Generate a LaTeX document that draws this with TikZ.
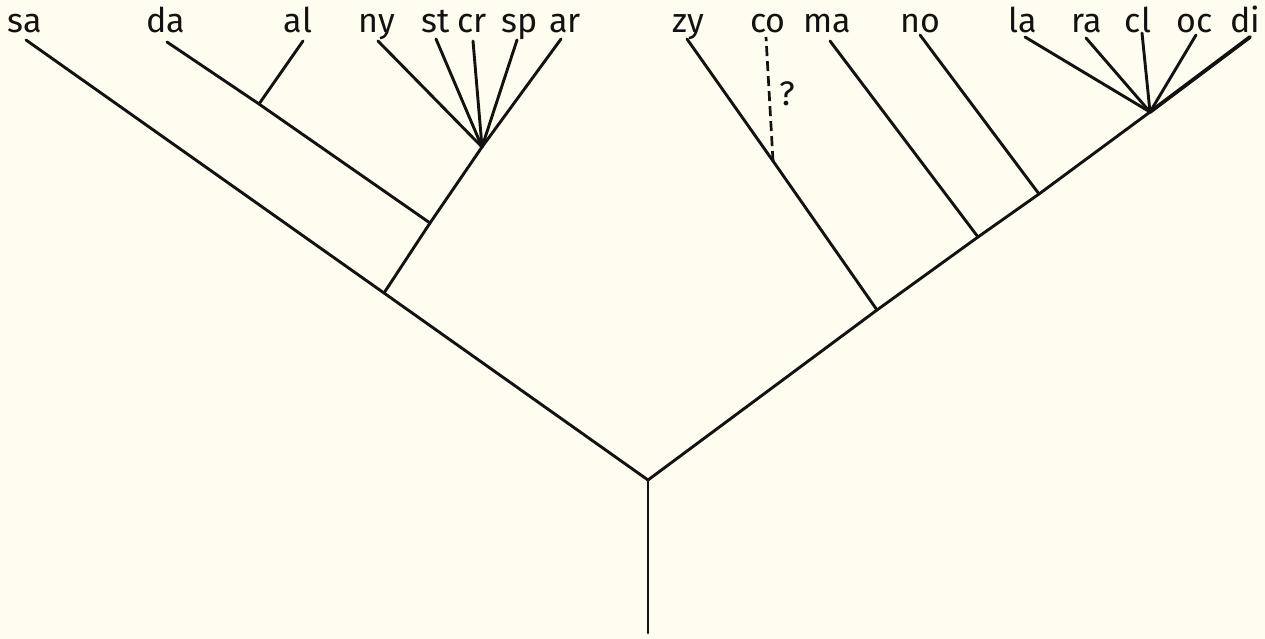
\documentclass[tikz,border=0pt]{standalone}
\usepackage{fontspec}
\setmainfont{Fira Sans}
\definecolor{paper}{RGB}{254,253,240}
\definecolor{ink}{RGB}{20,18,16}
\begin{document}
\begin{tikzpicture}[x=1pt,y=-1pt,
  taxon/.style={anchor=base,inner sep=0pt,font=\fontsize{34}{36}\selectfont,text=ink},
  branch/.style={draw=ink,line width=2.9pt,line cap=round,line join=round},
  stout/.style={draw=ink,line width=3.8pt,line cap=round},
  doubtful/.style={draw=ink,line width=2.7pt,dash pattern=on 10pt off 5pt}]
\fill[paper] (0,0) rectangle (1265,639);
\useasboundingbox (0,0) rectangle (1265,639);

% taxon labels
\node[taxon] (Lsa) at (25,33) {sa};
\node[taxon] (Lda) at (166,33) {da};
\node[taxon] (Lal) at (298,33) {al};
\node[taxon] (Lny) at (377,33) {ny};
\node[taxon] (Lst) at (436,33) {st};
\node[taxon] (Lcr) at (472,33) {cr};
\node[taxon] (Lsp) at (520,33) {sp};
\node[taxon] (Lar) at (565,33) {ar};
\node[taxon] (Lzy) at (688,33) {zy};
\node[taxon] (Lco) at (768,33) {co};
\node[taxon] (Lma) at (827,33) {ma};
\node[taxon] (Lno) at (920,33) {no};
\node[taxon] (Lla) at (1023,33) {la};
\node[taxon] (Lra) at (1087,33) {ra};
\node[taxon] (Lcl) at (1138,33) {cl};
\node[taxon] (Loc) at (1195,33) {oc};
\node[taxon] (Ldi) at (1245,33) {di};
\node[taxon] (Lq) at (787,106) {?};

% branch tips
\coordinate (sa) at (26,40);
\coordinate (da) at (167,42);
\coordinate (al) at (303,41);
\coordinate (ny) at (378,41);
\coordinate (st) at (436,39);
\coordinate (cr) at (473,41);
\coordinate (sp) at (517,40);
\coordinate (ar) at (561,39);
\coordinate (zy) at (687,39);
\coordinate (co) at (766,37);
\coordinate (ma) at (830,41);
\coordinate (no) at (920,35);
\coordinate (la) at (1025,37);
\coordinate (ra) at (1086,38);
\coordinate (cl) at (1142,33);
\coordinate (oc) at (1196,35);
\coordinate (di) at (1250,37);

% internal nodes
\coordinate (base) at (648,633);
\coordinate (root) at (648,480);
\coordinate (jL) at (384,293);
\coordinate (jM) at (430,223);
\coordinate (jal) at (259,104);
\coordinate (fanL) at (482,147);
\coordinate (jzy) at (877,310);
\coordinate (jco) at (773,161);
\coordinate (jma) at (978,237);
\coordinate (jno) at (1039,194);
\coordinate (fanR) at (1150,112);

% stem and main limbs
\draw[branch] (base) -- (root);
\draw[branch] (root) -- (jL) -- (sa);
\draw[branch] (jL) -- (jM) -- (fanL);
\draw[branch] (jM) -- (jal) -- (da);
\draw[branch] (jal) -- (al);
\draw[branch] (root) -- (jzy) -- (jma) -- (jno) -- (fanR);

% left fan
\foreach \t in {ny,st,cr,sp,ar} \draw[branch] (fanL) -- (\t);

% right side branches
\draw[branch] (jzy) -- (jco) -- (zy);
\draw[doubtful] (jco) -- (co);
\draw[branch] (jma) -- (ma);
\draw[branch] (jno) -- (no);

% right fan
\foreach \t in {la,ra,cl,oc} \draw[branch] (fanR) -- (\t);
\draw[stout] (fanR) -- (di);
\end{tikzpicture}
\end{document}
